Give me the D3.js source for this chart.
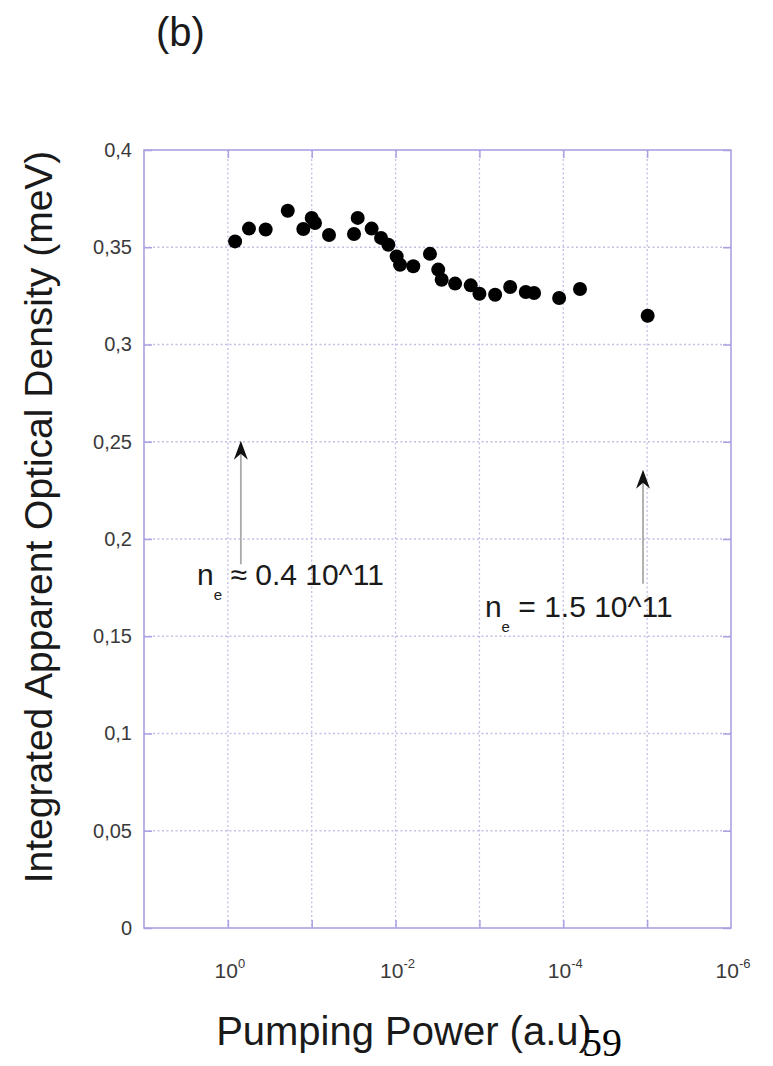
<!DOCTYPE html>
<html>
<head>
<meta charset="utf-8">
<script src="https://cdn.jsdelivr.net/npm/d3@7"></script>
<style>
  body { margin: 0; background: #fff; }
  svg { display: block; font-family: "Liberation Sans", Arial, sans-serif; }
</style>
</head>
<body>
<div id="chart-area"></div>
<script>
// pumping power (a.u.)
let power = [0.82, 0.56, 0.354, 0.193, 0.126, 0.100, 0.0914, 0.0622, 0.0313, 0.0283,
    0.0193, 0.0149, 0.0122, 0.0097, 0.00885, 0.00615, 0.00389, 0.0031, 0.00282, 0.00195,
    0.00127, 0.001, 0.00065, 0.00043, 0.00028, 0.000223, 0.000112, 0.0000632, 0.00000986];
// integrated apparent optical density (meV)
let density = [0.353, 0.3596, 0.3591, 0.3688, 0.3594, 0.3651, 0.3625, 0.3563, 0.3568, 0.3651,
    0.3596, 0.3548, 0.3513, 0.3453, 0.341, 0.3402, 0.3466, 0.3385, 0.3333, 0.3313,
    0.3304, 0.3261, 0.3256, 0.3296, 0.327, 0.3265, 0.3239, 0.3285, 0.3148];

let yTicks = [0, 0.05, 0.1, 0.15, 0.2, 0.25, 0.3, 0.35, 0.4];
let xGrid = [1, 1e-1, 1e-2, 1e-3, 1e-4, 1e-5];
let xLabelTicks = [1, 1e-2, 1e-4, 1e-6];

// arrows: x position, from / to density
let arrows = [
    { x: 0.70, from: 0.187, to: 0.2505 },
    { x: 0.0000112, from: 0.177, to: 0.2356 }
];
let notes = [
    { x: 2.33, y: 0.1764, sym: " \u2248 0.4 10^11" },
    { x: 0.00086, y: 0.160, sym: "  = 1.5 10^11" }
];

let margin = { left: 144, right: 42, top: 150, bottom: 138 };
let width = 773 - margin.left - margin.right,
    height = 1066 - margin.top - margin.bottom;

let svg = d3.select("#chart-area")
    .append("svg")
    .attr("width", 773)
    .attr("height", 1066);

let g = svg.append("g")
    .attr("transform", "translate(" + margin.left + ", " + margin.top + ")");

let x = d3.scaleLog()
    .domain([10, 1e-6])
    .range([0, width]);

let y = d3.scaleLinear()
    .domain([0, 0.4])
    .range([height, 0]);

let gridColor = "#c3bfe6";
let frameColor = "#a9a2e2";

// grid
g.append("g")
    .attr("class", "grid")
    .selectAll("line.h")
    .data(yTicks.slice(1, -1))
    .enter().append("line")
    .attr("x1", 0).attr("x2", width)
    .attr("y1", function(d){ return y(d); })
    .attr("y2", function(d){ return y(d); })
    .attr("stroke", gridColor)
    .attr("stroke-width", 1.3)
    .attr("stroke-dasharray", "2,2.5");

g.append("g")
    .attr("class", "grid")
    .selectAll("line.v")
    .data(xGrid)
    .enter().append("line")
    .attr("y1", 0).attr("y2", height)
    .attr("x1", function(d){ return x(d); })
    .attr("x2", function(d){ return x(d); })
    .attr("stroke", gridColor)
    .attr("stroke-width", 1.3)
    .attr("stroke-dasharray", "2,2.5");

// Y Axis (labels with comma decimals, inward ticks)
let yAxisCall = d3.axisLeft(y)
    .tickValues(yTicks)
    .tickSize(-8)
    .tickPadding(12)
    .tickFormat(function(d){ return d3.format("~g")(d).replace(".", ","); });
let yAxis = g.append("g")
    .attr("class", "y axis")
    .call(yAxisCall);

g.append("g")
    .attr("transform", "translate(" + width + ",0)")
    .call(d3.axisRight(y).tickValues(yTicks).tickSize(-8).tickFormat(""));

// X Axis
let xAxisCall = d3.axisBottom(x)
    .tickValues(xGrid)
    .tickSize(-8)
    .tickFormat("");
g.append("g")
    .attr("class", "x axis")
    .attr("transform", "translate(0," + height + ")")
    .call(xAxisCall);
g.append("g")
    .call(d3.axisTop(x).tickValues(xGrid).tickSize(-8).tickFormat(""));

g.selectAll(".domain").remove();
g.selectAll(".tick line").attr("stroke", frameColor).attr("stroke-width", 1.5);
yAxis.selectAll(".tick text")
    .attr("font-size", "20px")
    .attr("fill", "#3a3a3a");

// x tick labels with superscript exponent
let xLabels = g.append("g")
    .selectAll("text.xl")
    .data(xLabelTicks)
    .enter().append("text")
    .attr("x", function(d){ return x(d) + 2; })
    .attr("y", height + 50)
    .attr("text-anchor", "middle")
    .attr("font-size", "21px")
    .attr("fill", "#3a3a3a");
xLabels.append("tspan").text("10");
xLabels.append("tspan")
    .attr("dy", -10)
    .attr("font-size", "13px")
    .text(function(d){ return Math.round(Math.log10(d)); });

// frame
g.append("rect")
    .attr("width", width)
    .attr("height", height)
    .attr("fill", "none")
    .attr("stroke", frameColor)
    .attr("stroke-width", 1.6);

// points
g.selectAll("circle")
    .data(power)
    .enter()
    .append("circle")
    .attr("cx", function(d){ return x(d); })
    .attr("cy", function(d, i){ return y(density[i]); })
    .attr("r", 7)
    .attr("fill", "#000");

// arrows
arrows.forEach(function(a) {
    g.append("line")
        .attr("x1", x(a.x)).attr("x2", x(a.x))
        .attr("y1", y(a.from)).attr("y2", y(a.to) + 8)
        .attr("stroke", "#aaa")
        .attr("stroke-width", 1.8);
    g.append("path")
        .attr("d", "M0,0 L-7,19 L0,13 L7,19 Z")
        .attr("transform", "translate(" + x(a.x) + "," + y(a.to) + ")")
        .attr("fill", "#111");
});

// annotations
notes.forEach(function(n) {
    let t = g.append("text")
        .attr("x", x(n.x))
        .attr("y", y(n.y))
        .attr("font-size", "30px")
        .attr("fill", "#1a1a1a");
    t.append("tspan").text("n");
    t.append("tspan").attr("dy", 15).attr("font-size", "15px").text("e");
    t.append("tspan").attr("dy", -15).text(n.sym);
});

// Y Label
svg.append("text")
    .attr("transform", "translate(52," + 517 + ") rotate(-90)")
    .attr("text-anchor", "middle")
    .attr("font-size", "39px")
    .attr("fill", "#1a1a1a")
    .text("Integrated Apparent Optical Density (meV)");

// X Label
svg.append("text")
    .attr("x", 404)
    .attr("y", 1045)
    .attr("text-anchor", "middle")
    .attr("font-size", "40px")
    .attr("fill", "#1a1a1a")
    .text("Pumping Power (a.u)");

// page number
svg.append("text")
    .attr("x", 582)
    .attr("y", 1056)
    .attr("font-family", "'Liberation Serif', serif")
    .attr("font-size", "40px")
    .attr("fill", "#000")
    .text("59");

// panel tag
svg.append("text")
    .attr("x", 156)
    .attr("y", 46)
    .attr("font-size", "40px")
    .attr("fill", "#1a1a1a")
    .text("(b)");
</script>
</body>
</html>
